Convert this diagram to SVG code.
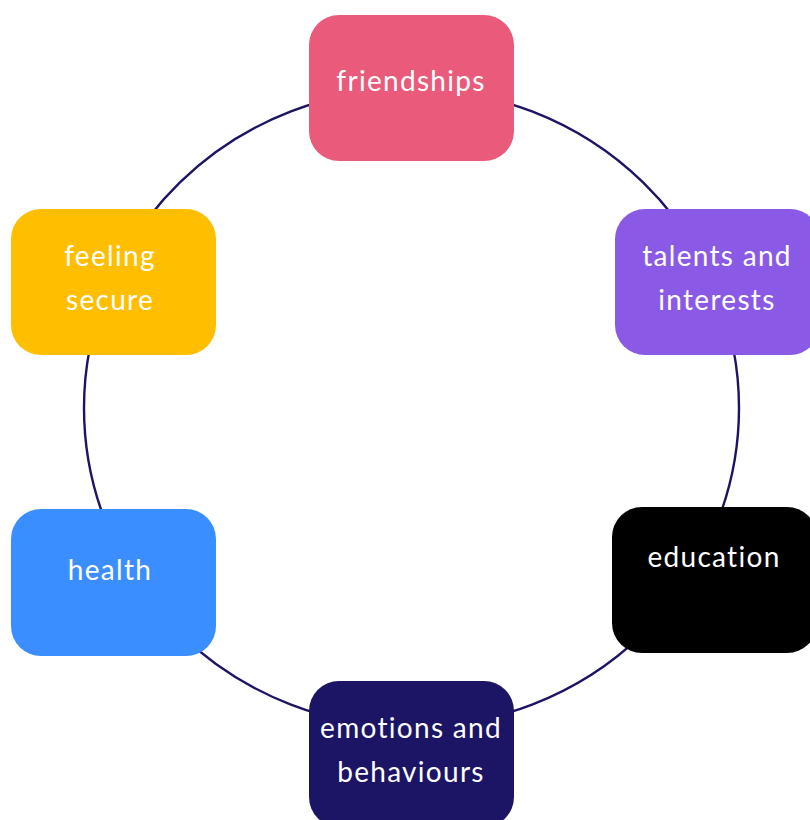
<svg xmlns="http://www.w3.org/2000/svg" width="810" height="820" viewBox="0 0 810 820">
<style>
.box{stroke:none}
.t{font-family:Lato,"Open Sans","Liberation Sans",sans-serif;font-size:28px;font-weight:400;fill:#fff;text-anchor:middle;letter-spacing:1.3px}
</style>
<rect width="810" height="820" fill="#fff"/>
<g id="connectors">
<ellipse cx="411.5" cy="408" rx="327.5" ry="319" fill="none" stroke="#1C1464" stroke-width="2.4"/>
</g>
<g id="friendships">
<rect class="box" x="309" y="15" width="205" height="146" rx="30" fill="#EA5A7B"/>
<text class="t" x="411" y="91">friendships</text>
</g>
<g id="feeling-secure">
<rect class="box" x="11" y="209" width="205" height="146" rx="30" fill="#FFBE00"/>
<text class="t" x="110" y="266">feeling</text>
<text class="t" x="110" y="310">secure</text>
</g>
<g id="talents-and-interests">
<rect class="box" x="615" y="209" width="205" height="146" rx="30" fill="#8A5AE6"/>
<text class="t" x="717" y="266">talents and</text>
<text class="t" x="717" y="310">interests</text>
</g>
<g id="health">
<rect class="box" x="11" y="509" width="205" height="147" rx="30" fill="#3A8EFF"/>
<text class="t" x="110" y="580">health</text>
</g>
<g id="education">
<rect class="box" x="612" y="507" width="205" height="146" rx="30" fill="#000"/>
<text class="t" x="714" y="567">education</text>
</g>
<g id="emotions-and-behaviours">
<rect class="box" x="309" y="681" width="205" height="146" rx="30" fill="#1C1464"/>
<text class="t" x="411" y="738">emotions and</text>
<text class="t" x="411" y="782">behaviours</text>
</g>
</svg>
